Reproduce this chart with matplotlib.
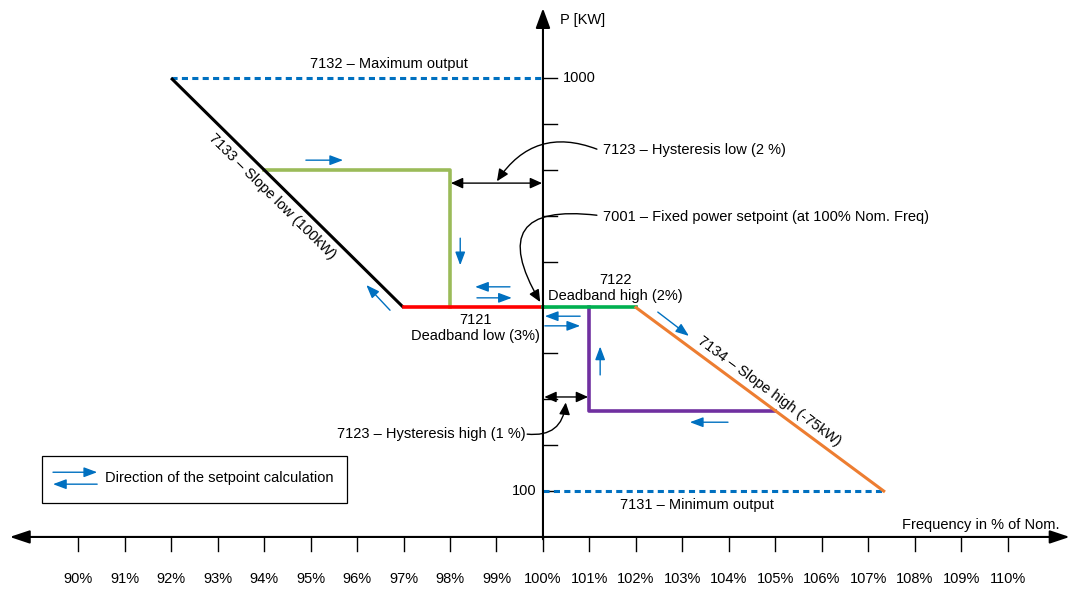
import numpy as np
import matplotlib
matplotlib.use("Agg")
import matplotlib.pyplot as plt
from matplotlib.patches import Rectangle

plt.rcParams["font.family"] = ["Liberation Sans", "DejaVu Sans"]
plt.rcParams["font.size"] = 10.5

# =========================
# DATA
# =========================

freq_ticks = list(range(90, 111))
power_ticks = list(range(100, 1001, 100))

slope_low_f = [92, 97]
slope_low_p = [1000, 500]
deadband_low_f = [97, 100]
deadband_low_p = [500, 500]
deadband_high_f = [100, 102]
deadband_high_p = [500, 500]
slope_high_f = [102, 107.33]
slope_high_p = [500, 100]
hyst_low_f = [94, 98, 98]
hyst_low_p = [800, 800, 500]
hyst_high_f = [101, 101, 105]
hyst_high_p = [500, 275, 275]
max_out_f = [92, 100]
max_out_p = [1000, 1000]
min_out_f = [100, 107.33]
min_out_p = [100, 100]

# direction arrows (start f, start p, end f, end p)
direction_arrows = [
    (94.90, 821, 95.70, 821),
    (98.22, 651, 98.22, 592),
    (99.29, 545, 98.54, 545),
    (98.58, 521, 99.33, 521),
    (96.71, 494, 96.20, 549),
    (100.80, 481, 100.04, 481),
    (100.04, 460, 100.80, 460),
    (101.23, 353, 101.23, 415),
    (103.98, 250, 103.16, 250),
    (102.47, 490, 103.14, 438),
]

BLUE = "#0070C0"

# =========================
# FIGURE
# =========================

fig = plt.figure(figsize=(10.72, 5.90), dpi=100)
ax = fig.add_axes([0, 0, 1, 1])
ax.set_xlim(88.32, 111.38)
ax.set_ylim(-115.6, 1170)
ax.axis("off")


def arrow(x0, y0, x1, y1, color="black", style="-|>", lw=1.0, ms=20, rad=0.0, z=5):
    ax.annotate(
        "",
        xy=(x1, y1),
        xytext=(x0, y0),
        arrowprops=dict(
            arrowstyle=style,
            color=color,
            lw=lw,
            mutation_scale=ms,
            shrinkA=0,
            shrinkB=0,
            connectionstyle=f"arc3,rad={rad}",
        ),
        zorder=z,
    )


def line_angle(f, p):
    (x0, y0), (x1, y1) = ax.transData.transform([(f[0], p[0]), (f[-1], p[-1])])
    return np.degrees(np.arctan2(y1 - y0, x1 - x0))


# =========================
# AXES
# =========================

arrow(88.53, 0, 111.33, 0, style="<|-|>,head_length=0.6,head_width=0.2", lw=1.5, ms=20)
arrow(100, -5, 100, 1152, style="-|>,head_length=0.6,head_width=0.22", lw=1.5, ms=20)

for f in freq_ticks:
    ax.plot([f, f], [0, -30], color="black", lw=1.0)
    ax.text(f, -92, f"{f}%", ha="center", va="center")

for p in power_ticks:
    ax.plot([100, 100.31], [p, p], color="black", lw=1.0)

ax.text(100.42, 1000, "1000", ha="left", va="center")
ax.text(99.87, 100, "100", ha="right", va="center")
ax.text(100.37, 1126, "P [KW]", ha="left", va="center")
ax.text(111.12, 26, "Frequency in % of Nom.", ha="right", va="center")

# =========================
# CURVE
# =========================

ax.plot(max_out_f, max_out_p, color=BLUE, lw=2.2, ls=(0, (2, 1.4)), zorder=3)
ax.plot(min_out_f, min_out_p, color=BLUE, lw=2.2, ls=(0, (2, 1.4)), zorder=3)

ax.plot(slope_low_f, slope_low_p, color="black", lw=2.2, solid_capstyle="butt", zorder=4)
ax.plot(hyst_low_f, hyst_low_p, color="#9BBB59", lw=2.6, zorder=3)
ax.plot(deadband_low_f, deadband_low_p, color="#FF0000", lw=2.6, zorder=4)
ax.plot(deadband_high_f, deadband_high_p, color="#00B050", lw=2.6, zorder=4)
ax.plot(hyst_high_f, hyst_high_p, color="#7030A0", lw=2.6, zorder=3)
ax.plot(slope_high_f, slope_high_p, color="#ED7D31", lw=2.2, zorder=4)

for f0, p0, f1, p1 in direction_arrows:
    arrow(f0, p0, f1, p1, color=BLUE, style="-|>,head_length=0.4,head_width=0.15", lw=1.0, ms=20)

# hysteresis markers
arrow(98.02, 771, 99.98, 771, style="<|-|>,head_length=0.4,head_width=0.18", lw=1.0, ms=18)
arrow(100.03, 305, 100.97, 305, style="<|-|>,head_length=0.4,head_width=0.18", lw=1.0, ms=18)

# =========================
# LABELS
# =========================

ax.text(96.69, 1030, "7132 – Maximum output", ha="center", va="center")
ax.text(103.31, 70, "7131 – Minimum output", ha="center", va="center")
ax.text(98.54, 455, "7121\nDeadband low (3%)", ha="center", va="center", linespacing=1.15)
ax.text(101.55, 542, "7122\nDeadband high (2%)", ha="center", va="center", linespacing=1.15)

ax.text(94.17, 741, "7133 – Slope low (100kW)", ha="center", va="center",
        rotation=line_angle(slope_low_f, slope_low_p), rotation_mode="anchor")
ax.text(104.86, 318, "7134 – Slope high (-75kW)", ha="center", va="center",
        rotation=line_angle(slope_high_f, slope_high_p), rotation_mode="anchor")

ax.text(101.29, 843, "7123 – Hysteresis low (2 %)", ha="left", va="center")
arrow(101.16, 845, 99.01, 775, style="-|>,head_length=0.4,head_width=0.18", lw=1.0, ms=18, rad=0.4)

ax.text(101.29, 697, "7001 – Fixed power setpoint (at 100% Nom. Freq)", ha="left", va="center")
arrow(101.16, 701, 99.94, 512, style="-|>,head_length=0.4,head_width=0.18", lw=1.0, ms=18, rad=1.0)

ax.text(99.63, 224, "7123 – Hysteresis high (1 %)", ha="right", va="center")
arrow(99.66, 224, 100.49, 293, style="-|>,head_length=0.4,head_width=0.18", lw=1.0, ms=18, rad=0.5)

# =========================
# LEGEND BOX
# =========================

ax.add_patch(Rectangle((89.22, 74), 95.78 - 89.22, 176 - 74, fill=False,
                       edgecolor="black", lw=0.9))
arrow(89.46, 141, 90.41, 141, color=BLUE, style="-|>,head_length=0.4,head_width=0.15", ms=20)
arrow(90.41, 115, 89.46, 115, color=BLUE, style="-|>,head_length=0.4,head_width=0.15", ms=20)
ax.text(90.58, 128, "Direction of the setpoint calculation", ha="left", va="center")

plt.savefig("out.png", dpi=100)
